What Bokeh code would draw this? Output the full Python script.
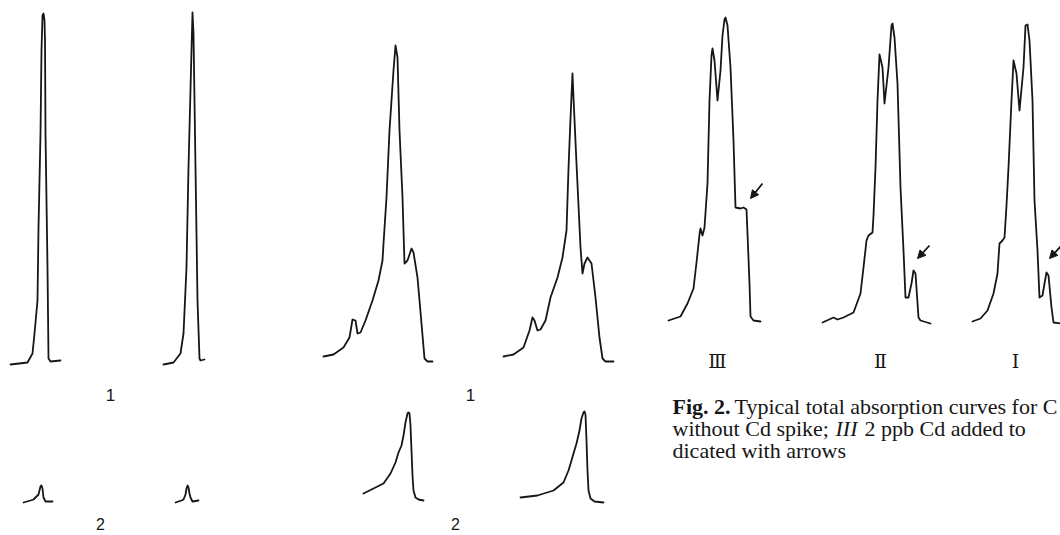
from bokeh.plotting import figure
from bokeh.models import Range1d, Arrow, NormalHead
from bokeh.core.properties import value
from bokeh.embed import file_html
from bokeh.resources import INLINE

# ---------------- data: recorder traces (time, absorbance signal) ----------------
# Group A, curve set 1 (sharp peaks)
A1a_t = [0, 17, 22, 24, 27, 28, 30, 31, 32, 33, 34, 34.5, 35, 37, 38, 40, 50]
A1a_s = [-2, 0, 9, 29, 62, 135, 229, 312, 347, 349, 342, 322, 229, 95, 4, 1, 2]
A1b_t = [0, 10, 17, 20, 23, 25, 28, 29, 30, 32, 34, 36, 37, 41]
A1b_s = [-2, 0, 9, 29, 95, 195, 312, 350, 329, 195, 62, 4, 2, 3]
# Group A, curve set 2 (small peaks)
A2a_t = [0, 7, 10, 15, 17, 18, 19, 20, 22, 29]
A2a_s = [-2, 0, 1, 6, 14, 15, 12, 3, -1, -1]
A2b_t = [0, 6, 8, 10, 11, 12, 13, 14, 15, 17, 23]
A2b_s = [-2, 0, 1, 6, 12, 15, 13, 7, 3, -1, 0]
# Group B, curve set 1 (broad peaks with shoulders)
B1a_t = [0, 10, 20, 26, 29, 32, 34, 37, 42, 49, 55, 59, 60, 63, 66, 70, 72, 74, 76, 79,
         81, 84, 88, 90, 94, 98, 101, 104, 109]
B1a_s = [2, 4, 11, 21, 39, 38, 25, 26, 38, 58, 78, 98, 115, 161, 228, 288, 313, 301, 228, 161,
         95, 98, 110, 106, 81, 35, 0, -3, -3]
B1b_t = [0, 10, 20, 26, 29, 31, 34, 37, 42, 47, 54, 59, 63, 65, 67, 69, 70, 73, 77, 79,
         81, 84, 88, 92, 96, 99, 102, 110]
B1b_s = [2, 4, 11, 28, 41, 38, 28, 29, 38, 61, 81, 101, 128, 190, 240, 285, 261, 195, 111, 85,
         95, 101, 95, 61, 21, 0, -3, -3]
# Group B, curve set 2
B2a_t = [0, 10, 20, 27, 32, 35, 38, 40, 42, 44, 45, 46, 47, 48, 49, 50, 52, 55, 60]
B2a_s = [7, 12, 17, 27, 38, 48, 55, 65, 78, 87, 88, 87, 75, 50, 25, 10, 3, 1, 0]
B2b_t = [0, 17, 33, 43, 48, 51, 53, 56, 59, 61, 63, 64, 65, 66, 67, 68, 70, 74, 83]
B2b_s = [3, 5, 10, 18, 30, 40, 47, 57, 70, 82, 88, 89, 86, 60, 30, 10, 2, -1, -2]
# Fig. 2 total absorption curves III, II, I
C3_t = [0, 12, 19, 25, 28, 31, 32, 34, 36, 39, 41, 43, 44, 46, 49, 52, 54, 56, 57, 59, 62, 65,
        67, 72, 75, 78, 79, 81, 82, 85, 92]
C3_s = [0, 4, 17, 32, 58, 86, 92, 85, 93, 137, 220, 265, 272, 260, 220, 250, 285, 301, 303, 295,
        253, 180, 113, 112, 113, 111, 87, 37, 4, 0, -1]
C2_t = [0, 11, 15, 21, 31, 38, 41, 44, 46, 50, 51, 53, 55, 57, 60, 62, 66, 69, 70, 72, 75, 78,
        81, 83, 86, 89, 91, 93, 96, 98, 108]
C2_s = [-2, 3, 1, 3, 8, 27, 53, 80, 85, 88, 105, 153, 220, 266, 253, 217, 253, 295, 297, 283,
        237, 133, 70, 23, 23, 37, 50, 47, 3, 0, -3]
C1_t = [0, 8, 15, 21, 25, 27, 30, 32, 34, 36, 39, 41, 44, 47, 51, 53, 55, 57, 60, 62, 65, 67,
        70, 72, 74, 76, 79, 81, 88]
C1_s = [0, 3, 11, 28, 48, 78, 81, 84, 116, 154, 221, 261, 248, 211, 254, 296, 297, 281, 221,
        121, 71, 24, 26, 38, 49, 46, 14, -1, -2]

SET1_LABELS = ["1", "1"]
SET2_LABELS = ["2", "2"]
CURVE_LABELS = ["Ⅲ", "Ⅱ", "Ⅰ"]
CAPTION_BOLD = "Fig. 2."
CAPTION_1 = "Typical total absorption curves for C"
CAPTION_2A = "without Cd spike;"
CAPTION_2B = "III"
CAPTION_2C = "2 ppb Cd added to"
CAPTION_3 = "dicated with arrows"

# ---------------- layout (positions of each trace: start, baseline) ----------------
TRACES = [
    (A1a_t, A1a_s, 10, 362), (A1b_t, A1b_s, 163, 362),
    (A2a_t, A2a_s, 23, 500), (A2b_t, A2b_s, 175, 500),
    (B1a_t, B1a_s, 323, 358), (B1b_t, B1b_s, 503, 358),
    (B2a_t, B2a_s, 363, 500), (B2b_t, B2b_s, 520, 500),
    (C3_t, C3_s, 668, 320), (C2_t, C2_s, 822, 320), (C1_t, C1_s, 972, 321),
]

p = figure(width=1060, height=535, x_range=Range1d(0, 1060), y_range=Range1d(535, 0),
           output_backend="svg", toolbar_location=None, min_border=0,
           x_axis_location=None, y_axis_location=None, outline_line_color=None)
p.grid.visible = False
p.background_fill_color = "white"
p.border_fill_color = "white"

INK = "#161616"
for t, s, x0, base in TRACES:
    p.line([x0 + v for v in t], [base - v for v in s], line_color=INK, line_width=1.8,
           line_join="round", line_cap="round")

# arrows marking the Cd signal
for xs, ys, xe, ye in [(762, 183, 750, 198), (929, 245, 917, 258), (1061, 245, 1049, 258)]:
    p.add_layout(Arrow(end=NormalHead(size=8, fill_color=INK, line_color=INK, line_width=1),
                       x_start=xs, y_start=ys, x_end=xe, y_end=ye,
                       line_color=INK, line_width=1.8))

sans = value("Liberation Sans")
serif = value("Liberation Serif")

p.text(x=[110, 470], y=[394, 394], text=SET1_LABELS,
       text_font=sans, text_font_size="17px", text_align="center",
       text_baseline="alphabetic", text_color=INK)
p.text(x=[100, 455], y=[523, 523], text=SET2_LABELS,
       text_font=sans, text_font_size="16px", text_align="center",
       text_baseline="alphabetic", text_color=INK)

p.text(x=[717, 880, 1015], y=[360, 360, 360], text=CURVE_LABELS,
       text_font=value("DejaVu Serif"), text_font_size="19px", text_align="center",
       text_baseline="middle", text_color=INK)

cap = dict(text_font=serif, text_font_size="22px", text_align="left",
           text_baseline="alphabetic", text_color=INK)
p.text(x=[672], y=[406], text=[CAPTION_BOLD], text_font_style="bold", **cap)
p.text(x=[734], y=[406], text=[CAPTION_1], **cap)
p.text(x=[672], y=[428], text=[CAPTION_2A], **cap)
p.text(x=[835], y=[428], text=[CAPTION_2B], text_font_style="italic", **cap)
p.text(x=[864], y=[428], text=[CAPTION_2C], **cap)
p.text(x=[672], y=[450], text=[CAPTION_3], **cap)

open("out.html", "w").write(file_html(p, INLINE))
